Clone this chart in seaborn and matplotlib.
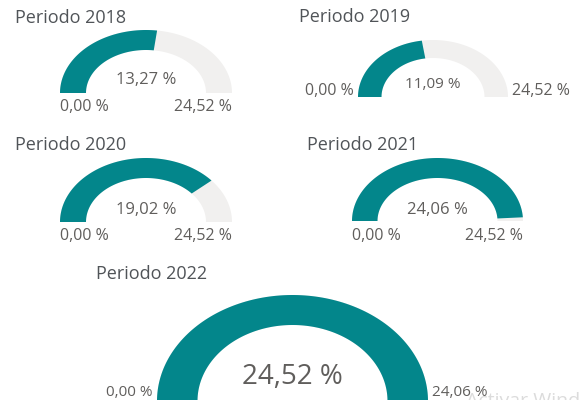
import numpy as np
import matplotlib
matplotlib.use("Agg")
import matplotlib.pyplot as plt
import seaborn as sns

# Gauge data per period
periods = ["Periodo 2018", "Periodo 2019", "Periodo 2020", "Periodo 2021", "Periodo 2022"]
values = [13.27, 11.09, 19.02, 24.06, 24.52]
mins = [0.00, 0.00, 0.00, 0.00, 0.00]
maxs = [24.52, 24.52, 24.52, 24.52, 24.06]

# Layout of each gauge in pixel space:
# (center x, baseline y, outer rx, outer ry, inner rx, inner ry)
shapes = [
    (146, 93, 86, 63, 60, 43),
    (433, 97, 75, 57, 51.5, 39),
    (146, 222, 86, 64, 60, 44),
    (437.5, 221, 85.5, 63, 60, 43),
    (292.5, 401, 135.5, 106, 95, 76),
]
# title (x, y), value label (x, y, size), min/max label placement
titles = [(15, 18), (299, 17), (15, 145), (307, 145), (96, 274)]
centers = [(146, 80, 12), (433, 85, 11), (146, 210, 12), (437.5, 210, 12), (292.5, 377, 20)]
# 'below' puts limits under the arc ends, 'side' puts them beside the base
limit_style = [("below", 107, 11.5), ("side", 91, 11.5), ("below", 236, 11.5),
               ("below", 236, 11.5), ("side", 393, 11)]

TEAL = "#03868b"
TRACK = "#f1f0ef"
TEXT = "#605e5c"
TITLE = "#505458"

sns.set_theme(style="white")
plt.rcParams["font.family"] = ["Open Sans", "DejaVu Sans"]

fig = plt.figure(figsize=(5.81, 4.00), dpi=100)
ax = fig.add_axes([0, 0, 1, 1])
ax.set_xlim(0, 581)
ax.set_ylim(400, 0)
ax.axis("off")


def fmt(v):
    return f"{v:.2f}".replace(".", ",") + " %"


def ring(cx, cy, rxo, ryo, rxi, ryi, a0, a1, color):
    t = np.linspace(a0, a1, 120)
    xo = cx + rxo * np.cos(t)
    yo = cy - ryo * np.sin(t)
    xi = cx + rxi * np.cos(t[::-1])
    yi = cy - ryi * np.sin(t[::-1])
    ax.fill(np.concatenate([xo, xi]), np.concatenate([yo, yi]),
            color=color, lw=0, zorder=2)


for i, name in enumerate(periods):
    cx, cy, rxo, ryo, rxi, ryi = shapes[i]
    frac = (values[i] - mins[i]) / (maxs[i] - mins[i])
    frac = float(np.clip(frac, 0, 1))
    # background track, then filled portion from the left end
    ring(cx, cy, rxo, ryo, rxi, ryi, 0, np.pi, TRACK)
    ring(cx, cy, rxo, ryo, rxi, ryi, np.pi - frac * np.pi, np.pi, TEAL)

    tx, ty = titles[i]
    ax.text(tx, ty, name, fontsize=13, color=TITLE, ha="left", va="center")

    vx, vy, vs = centers[i]
    ax.text(vx, vy, fmt(values[i]), fontsize=vs, color=TEXT,
            ha="center", va="center")

    style, ly, ls = limit_style[i]
    if style == "below":
        ax.text(cx - rxo, ly, fmt(mins[i]), fontsize=ls, color=TEXT,
                ha="left", va="center")
        ax.text(cx + rxo, ly, fmt(maxs[i]), fontsize=ls, color=TEXT,
                ha="right", va="center")
    else:
        ax.text(cx - rxo - 4, ly, fmt(mins[i]), fontsize=ls, color=TEXT,
                ha="right", va="center")
        ax.text(cx + rxo + 4, ly, fmt(maxs[i]), fontsize=ls, color=TEXT,
                ha="left", va="center", zorder=4)

ax.text(466, 401, "Activar Windows", fontsize=14, color="#dcdcdc",
        ha="left", va="center", zorder=3)

fig.savefig("out.png", dpi=100, facecolor="white")
